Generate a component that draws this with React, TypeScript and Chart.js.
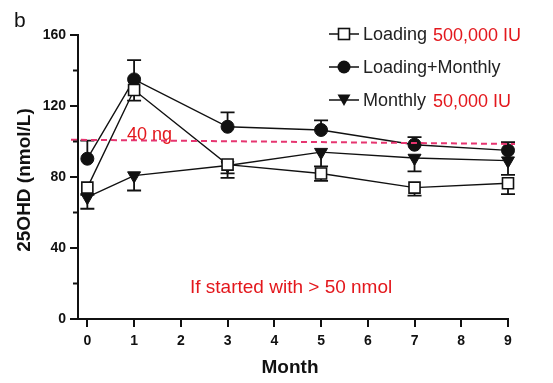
import React, { useEffect, useRef } from 'react';
import { Chart, registerables } from 'chart.js';
Chart.register(...registerables);

const FONT = '"Liberation Sans", Arial, Helvetica, sans-serif';
const RED = '#e3171c';
const PINK = '#e63570';
const INK = '#111111';

const months = [0, 1, 3, 5, 7, 9];
const xTicks = [0, 1, 2, 3, 4, 5, 6, 7, 8, 9];
const yTicks = [0, 40, 80, 120, 160];
const yMinorTicks = [20, 60, 100, 140];

const loading = [74, 129, 87, 82, 74, 76.5];
const loadingErr = [4, 6, 5, 4.2, 4.5, 6.2];
const combo = [90.3, 135, 108.3, 106.5, 98.2, 95];
const comboErr = [10.2, 10.8, 8.1, 5.4, 4.3, 4.7];
const monthly = [68.6, 80.8, 86.5, 94, 90.7, 89.2];
const monthlyErr = [6.5, 8.4, 7, 8, 7.5, 8];

const refLineX = [-0.35, 9.15];
const refLineY = [101, 98.6];

const seriesNames = ['Loading', 'Loading+Monthly', 'Monthly'];
const seriesDoses = ['500,000 IU', '', '50,000 IU'];

const errSeries = [
  { values: loading, errs: loadingErr, dir: -1 },
  { values: combo, errs: comboErr, dir: 1 },
  { values: monthly, errs: monthlyErr, dir: -1 },
];

function drawMarker(ctx: CanvasRenderingContext2D, kind: number, x: number, y: number) {
  ctx.save();
  ctx.lineWidth = 1.6;
  ctx.strokeStyle = INK;
  ctx.fillStyle = INK;
  if (kind === 0) {
    ctx.fillStyle = '#fff';
    ctx.fillRect(x - 5.5, y - 5.5, 11, 11);
    ctx.strokeRect(x - 5.5, y - 5.5, 11, 11);
  } else if (kind === 1) {
    ctx.beginPath();
    ctx.arc(x, y, 6.5, 0, Math.PI * 2);
    ctx.fill();
  } else {
    ctx.beginPath();
    ctx.moveTo(x - 6.5, y - 5.5);
    ctx.lineTo(x + 6.5, y - 5.5);
    ctx.lineTo(x, y + 6);
    ctx.closePath();
    ctx.fill();
  }
  ctx.restore();
}

const errorBars = {
  id: 'errorBars',
  beforeDatasetsDraw(chart: any) {
    const ctx = chart.ctx;
    const xs = chart.scales.x;
    const ys = chart.scales.y;
    ctx.save();
    ctx.strokeStyle = INK;
    ctx.lineWidth = 1.8;
    errSeries.forEach((s) => {
      months.forEach((m, i) => {
        const v = s.values[i];
        const end = v + s.dir * s.errs[i];
        const px = xs.getPixelForValue(m);
        const p0 = ys.getPixelForValue(v);
        const p1 = ys.getPixelForValue(end);
        ctx.beginPath();
        ctx.moveTo(px, p0);
        ctx.lineTo(px, p1);
        ctx.moveTo(px - 7, p1);
        ctx.lineTo(px + 7, p1);
        ctx.stroke();
      });
    });
    ctx.restore();
  },
};

const annotations = {
  id: 'annotations',
  afterDraw(chart: any) {
    const ctx = chart.ctx;
    const ys = chart.scales.y;
    const left = chart.chartArea.left;
    ctx.save();
    // minor ticks
    ctx.strokeStyle = INK;
    ctx.lineWidth = 2;
    yMinorTicks.forEach((v) => {
      const py = ys.getPixelForValue(v);
      ctx.beginPath();
      ctx.moveTo(left - 5, py);
      ctx.lineTo(left, py);
      ctx.stroke();
    });
    // panel label
    ctx.fillStyle = INK;
    ctx.font = `21px ${FONT}`;
    ctx.textAlign = 'left';
    ctx.textBaseline = 'alphabetic';
    ctx.fillText('b', 14, 27);
    // axis titles
    ctx.font = `bold 19px ${FONT}`;
    ctx.textAlign = 'center';
    ctx.textBaseline = 'middle';
    ctx.fillText('Month', 290, 368);
    ctx.save();
    ctx.translate(25, 180);
    ctx.rotate(-Math.PI / 2);
    ctx.fillText('25OHD (nmol/L)', 0, 0);
    ctx.restore();
    // red annotations
    ctx.fillStyle = RED;
    ctx.textAlign = 'left';
    ctx.textBaseline = 'alphabetic';
    ctx.font = `18px ${FONT}`;
    ctx.fillText('40 ng', 127, 140);
    ctx.font = `19px ${FONT}`;
    ctx.fillText('If started with > 50 nmol', 190, 293);
    // legend
    const rows = [34, 67, 100];
    rows.forEach((y, i) => {
      ctx.strokeStyle = INK;
      ctx.lineWidth = 1.5;
      ctx.beginPath();
      ctx.moveTo(329, y);
      ctx.lineTo(359, y);
      ctx.stroke();
      drawMarker(ctx, i, 344, y);
      ctx.fillStyle = '#222';
      ctx.font = `18px ${FONT}`;
      ctx.textBaseline = 'middle';
      ctx.fillText(seriesNames[i], 363, y + 1);
      if (seriesDoses[i]) {
        ctx.fillStyle = RED;
        ctx.fillText(seriesDoses[i], 433, y + 2);
      }
    });
    ctx.restore();
  },
};

export default function App() {
  const ref = useRef<HTMLCanvasElement>(null);
  useEffect(() => {
    if (!ref.current) return;
    const pts = (vals: number[]) => months.map((m, i) => ({ x: m, y: vals[i] }));
    const chart = new Chart(ref.current, {
      type: 'line',
      data: {
        datasets: [
          {
            label: '40 ng',
            data: refLineX.map((x, i) => ({ x, y: refLineY[i] })),
            borderColor: PINK,
            borderWidth: 2,
            borderDash: [6, 4],
            pointRadius: 0,
            clip: false as any,
          },
          {
            label: seriesNames[0],
            data: pts(loading),
            borderColor: INK,
            borderWidth: 1.4,
            pointStyle: 'rect',
            pointRadius: 7.8,
            pointBackgroundColor: '#fff',
            pointBorderColor: INK,
            pointBorderWidth: 1.6,
            clip: false as any,
          },
          {
            label: seriesNames[1],
            data: pts(combo),
            borderColor: INK,
            borderWidth: 1.4,
            pointStyle: 'circle',
            pointRadius: 6.5,
            pointBackgroundColor: INK,
            pointBorderColor: INK,
            pointBorderWidth: 1,
            clip: false as any,
          },
          {
            label: seriesNames[2],
            data: pts(monthly),
            borderColor: INK,
            borderWidth: 1.4,
            pointStyle: 'triangle',
            pointRotation: 180,
            pointRadius: 7.5,
            pointBackgroundColor: INK,
            pointBorderColor: INK,
            pointBorderWidth: 1,
            clip: false as any,
          },
        ],
      },
      options: {
        responsive: false,
        animation: false,
        layout: { padding: { left: 0, top: 35, right: 45, bottom: 0 } },
        plugins: { legend: { display: false }, tooltip: { enabled: false } },
        scales: {
          x: {
            type: 'linear',
            min: -0.2,
            max: 9,
            afterFit: (s: any) => { s.height = 64; },
            afterBuildTicks: (s: any) => { s.ticks = xTicks.map((v) => ({ value: v })); },
            ticks: {
              stepSize: 1,
              includeBounds: false,
              color: INK,
              font: { family: FONT, size: 14, weight: 'bold' },
              padding: 6,
            },
            grid: { drawOnChartArea: false, drawTicks: true, tickLength: 8, color: INK, lineWidth: 2 },
            border: { display: true, color: INK, width: 2 },
          },
          y: {
            type: 'linear',
            min: 0,
            max: 160,
            afterFit: (s: any) => { s.width = 78; },
            afterBuildTicks: (s: any) => { s.ticks = yTicks.map((v) => ({ value: v })); },
            ticks: {
              stepSize: 40,
              color: INK,
              font: { family: FONT, size: 14, weight: 'bold' },
              padding: 4,
            },
            grid: { drawOnChartArea: false, drawTicks: true, tickLength: 8, color: INK, lineWidth: 2 },
            border: { display: true, color: INK, width: 2 },
          },
        },
      } as any,
      plugins: [errorBars, annotations],
    });
    return () => chart.destroy();
  }, []);
  return (
    <div style={{ position: 'absolute', left: 0, top: 0, width: 553, height: 383, background: '#fff' }}>
      <canvas ref={ref} width={553} height={383} />
    </div>
  );
}
